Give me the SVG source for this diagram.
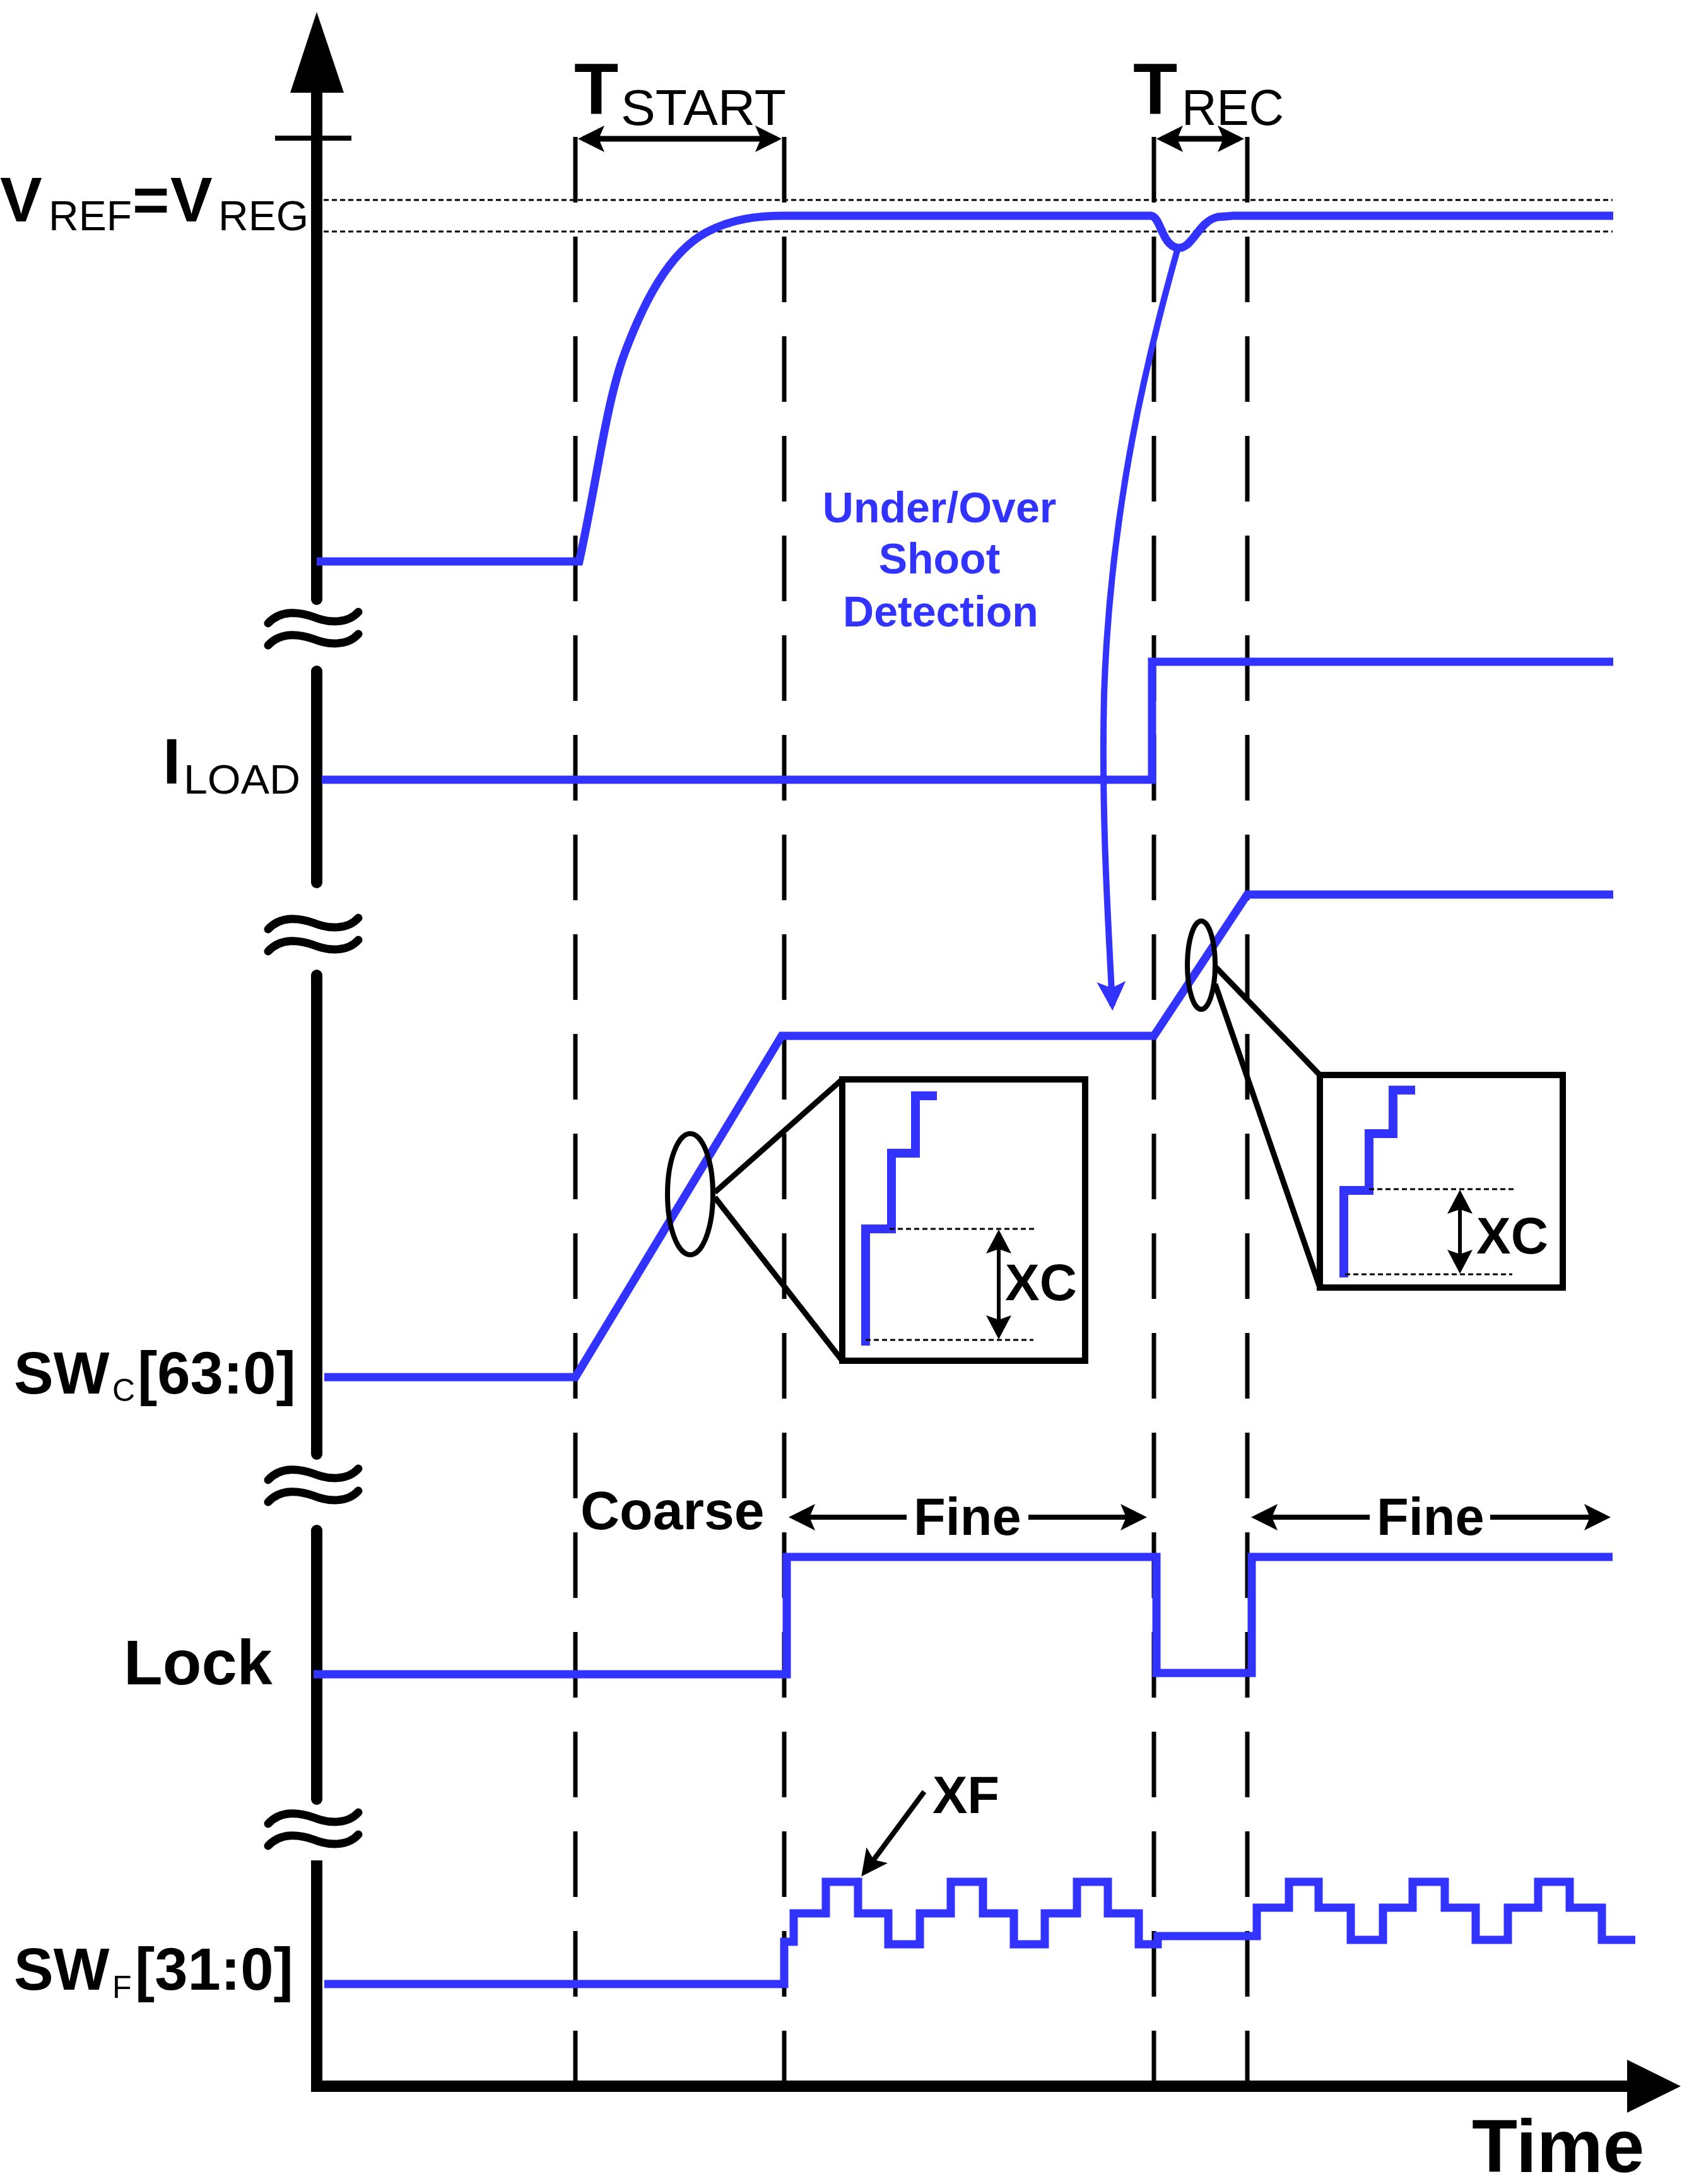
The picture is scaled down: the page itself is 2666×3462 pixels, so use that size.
<svg xmlns="http://www.w3.org/2000/svg" width="2666" height="3462" viewBox="0 0 2666 3462">
<defs>
<style>
.t{font-family:"Liberation Sans",Arial,sans-serif;fill:#000}
.b{font-weight:bold}
.blue{fill:#3333FF}
.sig{fill:none;stroke:#3333FF;stroke-width:13;stroke-linejoin:miter;stroke-linecap:butt}
.stair{fill:none;stroke:#3333FF;stroke-width:14;stroke-linejoin:miter}
.dash{stroke:#000;stroke-width:7;stroke-dasharray:104 54;fill:none}
.dot{stroke:#000;stroke-width:3;stroke-dasharray:8 5;fill:none}
.ax{stroke:#000;stroke-width:18;stroke-linecap:round;fill:none}
.ln{stroke:#000;stroke-width:9;fill:none}
.arr{stroke:#000;stroke-width:9;fill:none;marker-start:url(#ah);marker-end:url(#ah)}
.arrS{stroke:#000;stroke-width:8;fill:none;marker-start:url(#ah)}
.arr1{stroke:#000;stroke-width:8;fill:none;marker-end:url(#ah)}
.xc{stroke:#000;stroke-width:6;fill:none;marker-start:url(#ahs);marker-end:url(#ahs)}
.box{fill:#fff;stroke:#000;stroke-width:10}
.ell{fill:none;stroke:#000;stroke-width:8}
.brk{fill:none;stroke:#000;stroke-width:13;stroke-linecap:round}
</style>
<marker id="ah" viewBox="0 0 42 42" refX="34" refY="21" markerWidth="42" markerHeight="42" orient="auto-start-reverse" markerUnits="userSpaceOnUse"><path d="M0,0 L42,21 L0,42 L9,21 Z" fill="#000"/></marker>
<marker id="ahs" viewBox="0 0 38 40" refX="31" refY="20" markerWidth="38" markerHeight="40" orient="auto-start-reverse" markerUnits="userSpaceOnUse"><path d="M0,0 L38,20 L0,40 L7,20 Z" fill="#000"/></marker>
<marker id="ahb" viewBox="0 0 46 46" refX="38" refY="23" markerWidth="46" markerHeight="46" orient="auto" markerUnits="userSpaceOnUse"><path d="M0,0 L46,23 L0,46 L10,23 Z" fill="#3333FF"/></marker>
<g id="brkSym">
<path class="brk" d="M425,988 C445,966 475,970 497,978 C520,987 550,990 568,970"/>
<path class="brk" d="M425,1023 C445,1001 475,1005 497,1013 C520,1022 550,1025 568,1005"/>
</g>
</defs>
<rect width="2666" height="3462" fill="#fff"/>

<g id="guides">
<line class="dash" x1="912" y1="217" x2="912" y2="3300"/>
<line class="dash" x1="1243" y1="217" x2="1243" y2="3300"/>
<line class="dash" x1="1829" y1="217" x2="1829" y2="3300"/>
<line class="dash" x1="1977" y1="217" x2="1977" y2="3300"/>
<line class="dot" x1="513" y1="317" x2="2556" y2="317"/>
<line class="dot" x1="513" y1="367" x2="2556" y2="367"/>
</g>

<g id="axes">
<polygon points="502,19 460,147 545,147" fill="#000"/>
<line class="ax" x1="502" y1="140" x2="502" y2="950"/>
<line x1="436" y1="219" x2="557" y2="219" stroke="#000" stroke-width="8"/>
<line class="ax" x1="502" y1="1064" x2="502" y2="1399"/>
<line class="ax" x1="502" y1="1546" x2="502" y2="2305"/>
<line class="ax" x1="502" y1="2426" x2="502" y2="2852"/>
<polyline points="502,2949 502,3307 2590,3307" fill="none" stroke="#000" stroke-width="18" stroke-linejoin="miter"/>
<polygon points="2664,3307 2579,3265 2579,3349" fill="#000"/>
<use href="#brkSym"/>
<use href="#brkSym" transform="translate(0,485)"/>
<use href="#brkSym" transform="translate(0,1358)"/>
<use href="#brkSym" transform="translate(0,1903)"/>
</g>

<g id="vreg">
<path class="sig" d="M502,890 L918,890 C945,770 960,640 990,560 C1020,480 1060,400 1120,368 C1160,347 1200,342 1243,342 L1825,342 C1840,345 1842,390 1867,393 C1890,395 1900,350 1930,344 L1955,342 L2557,342"/>
<text class="t"><tspan class="b" x="0" y="351" font-size="100">V</tspan><tspan x="77" y="365" font-size="66">REF</tspan><tspan class="b" x="210" y="351" font-size="100">=</tspan><tspan class="b" x="270" y="351" font-size="100">V</tspan><tspan x="346" y="365" font-size="66">REG</tspan></text>
</g>

<g id="iload">
<path class="sig" d="M510,1236 L1826,1236 L1826,1049 L2557,1049"/>
<text class="t"><tspan class="b" x="258" y="1242" font-size="102">I</tspan><tspan x="291" y="1258" font-size="64" textLength="185" lengthAdjust="spacingAndGlyphs">LOAD</tspan></text>
</g>

<g id="swc">
<path class="sig" d="M514,2183 L912,2183 L1239,1642 L1829,1642 L1977,1418 L2557,1418"/>
<text class="t"><tspan class="b" x="22" y="2209" font-size="94">SW</tspan><tspan x="178" y="2221" font-size="50">C</tspan><tspan class="b" x="218" y="2209" font-size="94">[63:0]</tspan></text>
</g>

<g id="lock">
<path class="sig" d="M497,2654 L1247,2654 L1247,2468 L1833,2468 L1833,2652 L1984,2652 L1984,2468 L2556,2468"/>
<text class="t b" x="196" y="2670" font-size="101">Lock</text>
</g>

<g id="swf">
<path class="sig" d="M514,3145 L1243,3145 L1243,3078 L1258,3078 L1258,3033 L1309,3033 L1309,2983 L1360,2983 L1360,3033 L1408,3033 L1408,3082 L1458,3082 L1458,3033 L1507,3033 L1507,2983 L1558,2983 L1558,3033 L1607,3033 L1607,3082 L1656,3082 L1656,3033 L1707,3033 L1707,2983 L1756,2983 L1756,3033 L1805,3033 L1805,3082 L1835,3082 L1835,3069 L1992,3069 L1992,3024 L2043,3024 L2043,2983 L2090,2983 L2090,3024 L2141,3024 L2141,3075 L2192,3075 L2192,3024 L2239,3024 L2239,2983 L2290,2983 L2290,3024 L2339,3024 L2339,3075 L2390,3075 L2390,3024 L2438,3024 L2438,2983 L2488,2983 L2488,3024 L2539,3024 L2539,3075 L2592,3075"/>
<text class="t"><tspan class="b" x="22" y="3154" font-size="94">SW</tspan><tspan x="178" y="3167" font-size="50">F</tspan><tspan class="b" x="214" y="3154" font-size="94">[31:0]</tspan></text>
</g>

<g id="zoomLeft">
<ellipse class="ell" cx="1094" cy="1893" rx="36" ry="96"/>
<rect class="box" x="1335" y="1711" width="385" height="446"/>
<path class="stair" d="M1372,2133 L1372,1948 L1413,1948 L1413,1828 L1451,1828 L1451,1737 L1485,1737"/>
<line class="dot" x1="1410" y1="1948" x2="1642" y2="1948"/>
<line class="dot" x1="1372" y1="2124" x2="1638" y2="2124"/>
<text class="t b" x="1593" y="2061" font-size="82">XC</text>
</g>

<g id="zoomRight">
<ellipse class="ell" cx="1904" cy="1530" rx="22" ry="70"/>
<rect class="box" x="2092" y="1704" width="385" height="337"/>
<path class="stair" d="M2130,2025 L2130,1887 L2170,1887 L2170,1797 L2208,1797 L2208,1728 L2243,1728"/>
<line class="dot" x1="2170" y1="1885" x2="2401" y2="1885"/>
<line class="dot" x1="2132" y1="2020" x2="2397" y2="2020"/>
<text class="t b" x="2340" y="1987" font-size="82">XC</text>
</g>

<g id="labels">
<text class="t"><tspan class="b" x="910" y="180" font-size="115">T</tspan><tspan x="984" y="198" font-size="79" textLength="262" lengthAdjust="spacingAndGlyphs">START</tspan></text>
<text class="t"><tspan class="b" x="1796" y="180" font-size="115">T</tspan><tspan x="1873" y="198" font-size="79" textLength="162" lengthAdjust="spacingAndGlyphs">REC</tspan></text>
<text class="t b blue" font-size="68" text-anchor="middle"><tspan x="1489" y="828">Under/Over</tspan><tspan x="1489" y="909">Shoot</tspan><tspan x="1491" y="993">Detection</tspan></text>
<text class="t b" x="920" y="2424" font-size="86">Coarse</text>
<text class="t b" x="1448" y="2433" font-size="83">Fine</text>
<text class="t b" x="2182" y="2433" font-size="83">Fine</text>
<text class="t b" x="1478" y="2874" font-size="83">XF</text>
<text class="t b" x="2333" y="3443" font-size="118">Time</text>
</g>

<g id="connectors">
<line class="arr" x1="924" y1="220" x2="1231" y2="220"/>
<line class="arr" x1="1841" y1="220" x2="1964" y2="220"/>
<line class="arrS" x1="1258" y1="2405" x2="1437" y2="2405"/>
<line class="arr1" x1="1630" y1="2405" x2="1810" y2="2405"/>
<line class="arrS" x1="1991" y1="2405" x2="2171" y2="2405"/>
<line class="arr1" x1="2362" y1="2405" x2="2545" y2="2405"/>
<line class="arr1" x1="1465" y1="2840" x2="1370" y2="2968"/>
<line class="xc" x1="1583" y1="1956" x2="1583" y2="2116"/>
<line class="xc" x1="2314" y1="1893" x2="2314" y2="2012"/>
<path d="M1867,393 C1820,560 1760,800 1750,1100 C1745,1300 1758,1480 1763,1594" fill="none" stroke="#3333FF" stroke-width="10" marker-end="url(#ahb)"/>
<line class="ln" x1="1133" y1="1890" x2="1335" y2="1711"/>
<line class="ln" x1="1133" y1="1898" x2="1335" y2="2157"/>
<line class="ln" x1="1926" y1="1532" x2="2092" y2="1704"/>
<line class="ln" x1="1926" y1="1560" x2="2092" y2="2041"/>
</g>
</svg>
